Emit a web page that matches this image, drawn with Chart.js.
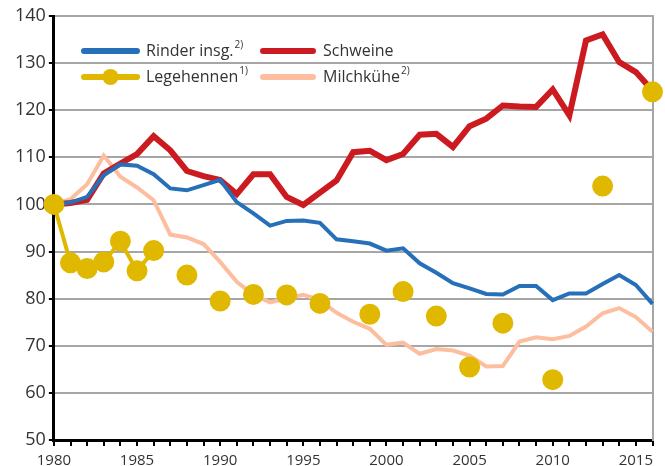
<!DOCTYPE html>
<html>
<head>
<meta charset="utf-8">
<script src="https://cdn.jsdelivr.net/npm/chart.js@4.4.1/dist/chart.umd.min.js"></script>
<style>
html,body{margin:0;padding:0;background:#fff;}
#wrap{width:665px;height:466px;position:relative;}
</style>
</head>
<body>
<div id="wrap"><canvas id="c" width="665" height="466"></canvas></div>
<script>
const years = [];
for (let y = 1980; y <= 2016; y++) years.push(y);

const rinder = [100,100.4,101.6,106.2,108.5,108.2,106.4,103.4,103.0,104.1,105.2,100.5,98.1,95.5,96.5,96.6,96.1,92.6,92.2,91.7,90.2,90.7,87.5,85.5,83.3,82.2,81.0,80.9,82.7,82.7,79.7,81.1,81.1,83.1,85.0,82.9,78.9];
const schweine = [100,100.3,101.0,106.6,108.7,110.7,114.5,111.5,107.1,106.0,105.2,102.2,106.4,106.4,101.6,99.9,102.5,105.1,111.1,111.4,109.4,110.7,114.8,115.0,112.2,116.6,118.2,121.0,120.8,120.7,124.4,118.9,134.8,136.1,130.2,128.1,124.2];
const legehennen = [100,87.6,86.4,87.8,92.2,85.9,90.2,null,85.0,null,79.5,null,80.9,null,80.8,null,79.0,null,null,76.7,null,81.5,null,76.3,null,65.5,null,74.8,null,null,62.8,null,null,103.9,null,null,123.9];
const milchkuehe = [100,101.1,104.3,110.4,105.9,103.6,100.9,93.6,93.0,91.6,87.8,83.6,80.8,79.2,80.1,80.8,79.7,77.0,75.1,73.6,70.2,70.7,68.3,69.3,69.0,67.9,65.6,65.7,70.9,71.8,71.4,72.1,74.1,76.9,78.0,76.1,73.0];

const seriesNames = ['Rinder insg.', 'Schweine', 'Legehennen', 'Milchkühe'];
const seriesSup = ['2)', '', '1)', '2)'];
const yTicks = [50,60,70,80,90,100,110,120,130,140];

const FONT = "'Open Sans', 'Noto Sans', sans-serif";

const legendPlugin = {
  id: 'insideLegend',
  afterDraw(chart) {
    const ctx = chart.ctx;
    const ds = chart.data.datasets;
    const slots = [
      {idx:0, x0:84, x1:137, tx:146, y:51},
      {idx:1, x0:263, x1:313, tx:323, y:51},
      {idx:2, x0:84, x1:137, tx:146, y:77},
      {idx:3, x0:263, x1:313, tx:323, y:77}
    ];
    ctx.save();
    slots.forEach(s => {
      const d = ds[s.idx];
      ctx.strokeStyle = d.borderColor;
      ctx.lineWidth = 6;
      ctx.lineCap = 'round';
      ctx.beginPath();
      ctx.moveTo(s.x0, s.y);
      ctx.lineTo(s.x1, s.y);
      ctx.stroke();
      if (d.pointRadius > 0) {
        ctx.fillStyle = d.pointBackgroundColor;
        ctx.beginPath();
        ctx.arc((s.x0 + s.x1) / 2, s.y, 8, 0, Math.PI * 2);
        ctx.fill();
      }
      ctx.fillStyle = '#333333';
      ctx.textBaseline = 'middle';
      ctx.textAlign = 'left';
      ctx.font = "16px " + FONT;
      const name = seriesNames[s.idx];
      ctx.fillText(name, s.tx, s.y);
      const w = ctx.measureText(name).width;
      if (seriesSup[s.idx]) {
        ctx.font = "10px " + FONT;
        ctx.fillText(seriesSup[s.idx], s.tx + w + 1, s.y - 6);
      }
    });
    ctx.restore();
  }
};

new Chart(document.getElementById('c'), {
  type: 'line',
  data: {
    labels: years,
    datasets: [
      {label: seriesNames[0], data: rinder, borderColor: '#2570b8', borderWidth: 4, pointRadius: 0, order: 1, tension: 0},
      {label: seriesNames[1], data: schweine, borderColor: '#cc1b20', borderWidth: 6, pointRadius: 0, order: 2, tension: 0},
      {label: seriesNames[2], data: legehennen, borderColor: '#e0b800', backgroundColor: '#e0b800', pointBackgroundColor: '#e0b800', pointBorderColor: '#e0b800', borderWidth: 4, pointRadius: 8.5, pointHoverRadius: 8.5, spanGaps: false, order: 0, tension: 0},
      {label: seriesNames[3], data: milchkuehe, borderColor: '#fdbd9f', borderWidth: 4, pointRadius: 0, order: 3, tension: 0}
    ]
  },
  options: {
    responsive: false,
    animation: false,
    layout: {padding: {left: 12, right: 2, top: 16, bottom: 0}},
    plugins: {legend: {display: false}, tooltip: {enabled: false}},
    elements: {line: {borderJoinStyle: 'miter', borderCapStyle: 'butt'}},
    scales: {
      x: {
        type: 'category',
        offset: false,
        afterFit: (axis) => { axis.height = 26; },
        grid: {drawOnChartArea: false, color: '#000', lineWidth: 2, tickLength: 6, offset: false},
        border: {color: '#000', width: 3},
        ticks: {
          autoSkip: false, maxRotation: 0, padding: 6,
          color: '#333', font: {size: 15, family: FONT},
          callback: function(v) { const y = years[v]; return (y % 5 === 0) ? String(y) : ''; }
        }
      },
      y: {
        min: 50, max: 140,
        afterBuildTicks: (ax) => { ax.ticks = yTicks.map(v => ({value: v})); },
        grid: {color: '#a6a6a6', lineWidth: 2, tickColor: '#000', tickLength: 5},
        border: {color: '#000', width: 3},
        ticks: {padding: 3, color: '#333', font: {size: 18, family: FONT}}
      },
      y2: {
        position: 'right',
        min: 50, max: 140,
        grid: {drawOnChartArea: false, drawTicks: false},
        border: {color: '#a6a6a6', width: 2},
        ticks: {display: false}
      }
    }
  },
  plugins: [legendPlugin]
});
</script>
</body>
</html>
